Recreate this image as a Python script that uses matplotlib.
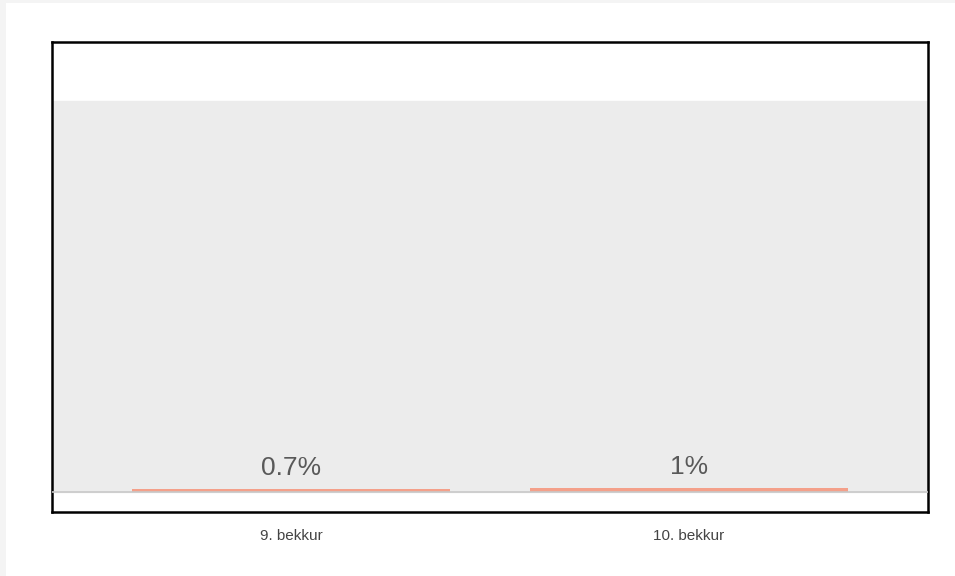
import matplotlib
matplotlib.use('Agg')
import matplotlib.pyplot as plt
from matplotlib.patches import Rectangle

categories = ['9. bekkur', '10. bekkur']
values = [0.7, 1.0]
value_labels = ['0.7%', '1%']

plt.rcParams['font.family'] = ['Liberation Sans', 'DejaVu Sans']

fig = plt.figure(figsize=(9.55, 5.76), dpi=100)
fig.patch.set_facecolor('#f4f4f4')
# white page area, leaving a thin grey strip on the left and top
fig.patches.append(Rectangle((6 / 955, 0), 1, 1 - 3 / 576, transform=fig.transFigure,
                             facecolor='white', edgecolor='none', zorder=-10))

ax = fig.add_axes([52 / 955, 1 - 512 / 576, 876 / 955, 470 / 576])
ax.set_facecolor('white')

# grey panel from 0 to 100 %
ax.axhspan(0, 100, color='#ececec', zorder=0)
ax.axhline(0, color='#c8c8c8', linewidth=1.2, zorder=3)

x = range(len(categories))
ax.bar(x, values, width=0.8, color='#f4a08a', zorder=2)
for i, v in enumerate(values):
    ax.annotate(value_labels[i], (i, v), xytext=(0, 10), textcoords='offset points',
                ha='center', va='baseline', fontsize=19, color='#595959')

ax.set_xlim(-0.6, 1.6)
ax.set_ylim(-5.1, 115.1)
ax.set_yticks([])
ax.set_xticks(list(x))
ax.set_xticklabels(categories, fontsize=11, color='#444444')
ax.tick_params(axis='x', length=0, pad=12)

for s in ax.spines.values():
    s.set_color('black')
    s.set_linewidth(1.8)

fig.savefig('out.png', dpi=100)
